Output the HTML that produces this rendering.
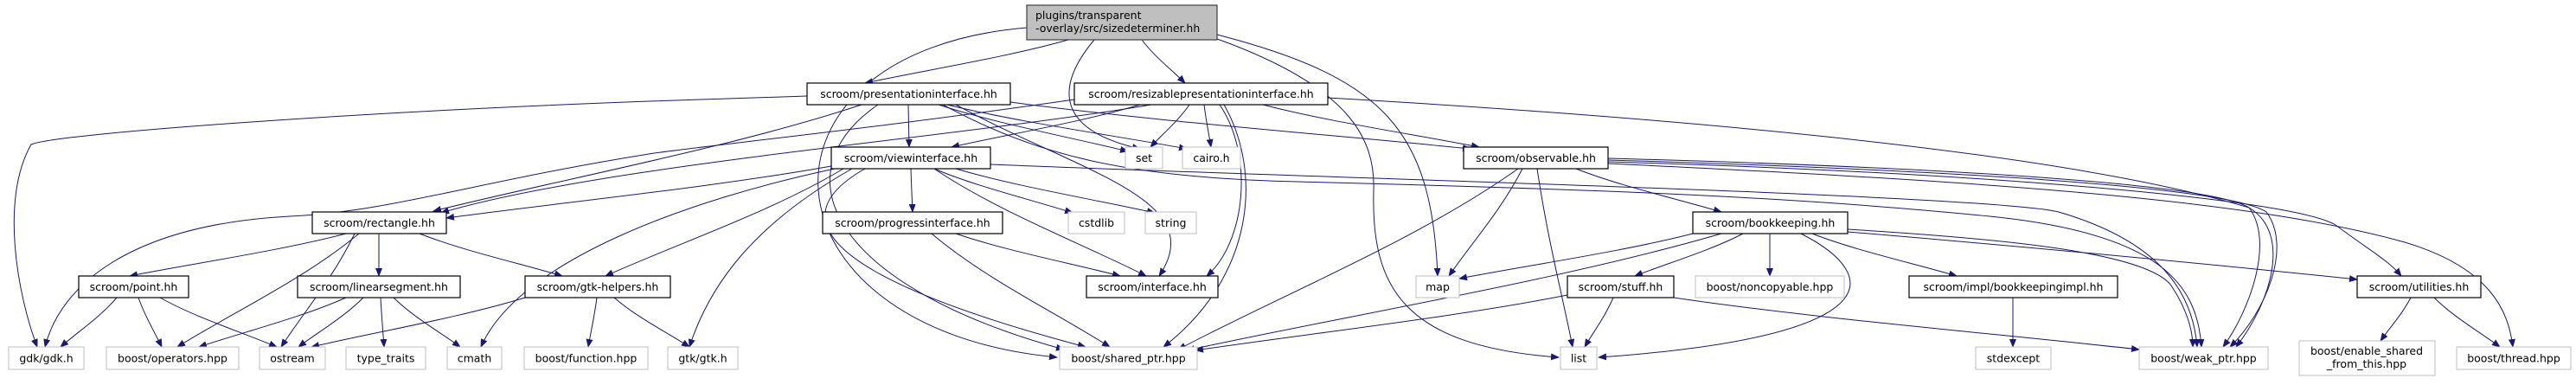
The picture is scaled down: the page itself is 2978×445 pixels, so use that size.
<!DOCTYPE html>
<html><head><meta charset="utf-8"><style>
html,body{margin:0;padding:0;background:#fff;}
svg text{font-family:"DejaVu Sans","Liberation Sans",sans-serif;font-size:12.5px;fill:#000;}
</style></head><body>
<svg id="g" width="2978" height="440" viewBox="0 0 2978 440" xmlns="http://www.w3.org/2000/svg">
<defs><marker id="a" markerWidth="10" markerHeight="8" refX="9" refY="4" orient="auto" markerUnits="userSpaceOnUse"><polygon points="0,0 10,4 0,8" fill="#191970"/></marker></defs>
<g id="edges" fill="none" stroke="#191970" stroke-width="1"></g>
<g id="nodes">
<rect x="1187" y="6" width="220" height="40" fill="#bfbfbf" stroke="#404040" stroke-width="1.2"/>
<text x="1197" y="22">plugins/transparent</text>
<text x="1197" y="37">-overlay/src/sizedeterminer.hh</text>
</g>
</svg>
<script>
var NS="http://www.w3.org/2000/svg";
var nodes=[
["scroom/presentationinterface.hh",933,96,235,25,1],
["scroom/resizablepresentationinterface.hh",1242,96,293,25,1],
["scroom/viewinterface.hh",961,170,184,25,1],
["set",1301,170,43,25,0],
["cairo.h",1367,170,67,25,0],
["scroom/observable.hh",1692,170,167,25,1],
["scroom/rectangle.hh",361,245,155,25,1],
["scroom/progressinterface.hh",951,245,208,25,1],
["cstdlib",1235,245,65,25,0],
["string",1324,245,59,25,0],
["scroom/bookkeeping.hh",1957,245,179,25,1],
["scroom/point.hh",91,319,127,25,1],
["scroom/linearsegment.hh",344,319,188,25,1],
["scroom/gtk-helpers.hh",607,319,168,25,1],
["scroom/interface.hh",1256,319,152,25,1],
["map",1637,319,50,25,0],
["scroom/stuff.hh",1812,319,123,25,1],
["boost/noncopyable.hpp",1960,319,172,25,0],
["scroom/impl/bookkeepingimpl.hh",2207,319,241,25,1],
["scroom/utilities.hh",2725,319,143,25,1],
["gdk/gdk.h",10,401,87,26,0],
["boost/operators.hpp",123,401,153,26,0],
["ostream",300,401,76,26,0],
["type_traits",400,401,92,26,0],
["cmath",517,401,63,26,0],
["boost/function.hpp",606,401,143,26,0],
["gtk/gtk.h",772,401,81,26,0],
["boost/shared_ptr.hpp",1225,401,159,26,0],
["list",1804,401,42,26,0],
["stdexcept",2284,401,87,26,0],
["boost/weak_ptr.hpp",2473,401,149,26,0],
["boost/thread.hpp",2840,401,132,26,0]
];
var ng=document.getElementById("nodes");
nodes.forEach(function(n){
 var r=document.createElementNS(NS,"rect");
 r.setAttribute("x",n[1]);r.setAttribute("y",n[2]);r.setAttribute("width",n[3]);r.setAttribute("height",n[4]);
 r.setAttribute("fill","#fff");r.setAttribute("stroke",n[5]?"#000":"#bfbfbf");r.setAttribute("stroke-width",n[5]?"1.2":"1");
 ng.appendChild(r);
 var t=document.createElementNS(NS,"text");
 t.setAttribute("x",n[1]+n[3]/2);t.setAttribute("y",n[2]+n[4]/2+4.5);t.setAttribute("text-anchor","middle");
 t.textContent=n[0];ng.appendChild(t);
});
(function(){
 var r=document.createElementNS(NS,"rect");
 r.setAttribute("x",2658);r.setAttribute("y",394);r.setAttribute("width",157);r.setAttribute("height",40);
 r.setAttribute("fill","#fff");r.setAttribute("stroke","#bfbfbf");ng.appendChild(r);
 [["boost/enable_shared",410],["_from_this.hpp",425]].forEach(function(l){
  var t=document.createElementNS(NS,"text");t.setAttribute("x",2736);t.setAttribute("y",l[1]);
  t.setAttribute("text-anchor","middle");t.textContent=l[0];ng.appendChild(t);});
})();
var E=[
"M1187,32 C850,60 870,380 1222,413",
[1235,46,1000,96],
"M1265,46 C1220,100 1220,150 1318,172",
[1320,46,1370,96],
"M1407,40 C1600,90 1655,150 1662,319",
"M1407,45 C1560,100 1590,160 1588,220 C1585,330 1620,400 1802,413",
[996,121,501,244],
"M933,111 L750,117 C400,130 60,155 36,167 C0,230 20,340 43,401",
"M1015,121 C900,200 960,330 1230,404",
[1050,121,1051,170],[1085,121,1304,175],[1095,121,1372,172],
"M1105,121 C1250,200 1400,230 1340,319",
[1168,118,1700,172],
"M1090,121 C1200,180 1300,205 1500,210 C1900,220 2100,230 2300,250 C2500,270 2540,330 2545,401",
[1318,121,1100,170],
"M1242,115 C1000,150 800,170 750,178 C550,210 450,245 335,250 C150,260 70,330 52,401",
[1375,121,1330,170],[1392,121,1400,170],
"M1410,121 C1450,180 1440,280 1395,319",
"M1415,121 C1460,200 1450,320 1345,401",
[1460,121,1710,170],
"M1535,113 C2000,140 2400,180 2600,240 C2650,270 2625,350 2585,401",
"M1331,121 C1100,160 700,190 510,246",
[961,192,516,252],[975,195,700,319],
"M965,195 C800,230 600,300 556,401",
"M985,195 C870,260 820,330 797,401",
"M1000,195 C850,280 1100,360 1255,401",
[1053,195,1055,245],[1080,195,1240,246],[1105,195,1335,246],[1080,195,1325,319],
"M1145,190 C1500,205 2300,225 2380,245 C2500,280 2535,340 2540,401",
[400,270,150,319],[415,270,205,401],[410,270,325,401],[438,270,438,319],[485,270,650,319],
[135,344,70,401],[160,344,187,401],[185,344,320,401],[400,344,230,401],[420,344,345,401],
[440,344,444,401],[455,344,532,401],[607,344,360,401],[690,344,680,401],[710,344,797,401],
[1077,270,1283,401],[1105,270,1295,319],
[1760,195,1675,319],[1755,195,1362,404],[1777,195,1818,401],[1822,195,1990,245],
"M1859,183 C2300,195 2560,215 2600,240 C2630,280 2600,360 2570,401",
"M1859,185 C2300,198 2580,218 2620,245 C2650,285 2620,360 2578,401",
"M1859,187 C2300,200 2650,230 2700,260 C2740,290 2760,300 2776,319",
"M1859,189 C2300,210 2600,230 2780,280 C2880,310 2900,360 2905,401",
[1957,270,1687,322],[1990,270,1372,405],[2015,270,1890,319],[2046,270,2046,319],
"M2082,270 C2180,320 2180,390 1848,413",
[2095,270,2262,319],
"M2136,265 C2300,275 2480,290 2510,330 C2530,360 2535,385 2535,401",
"M2136,268 C2400,290 2600,310 2725,323",
[1812,341,1382,405],[1865,344,1832,401],[1935,344,2473,404],
[2327,344,2327,401],[2787,344,2752,394],[2814,344,2890,401]
];
var eg=document.getElementById("edges");
E.forEach(function(e){
 var d;
 if(typeof e==="string") d=e;
 else{var dx=e[2]-e[0],dy=e[3]-e[1];
  d="M"+e[0]+","+e[1]+" C"+(e[0]+dx*0.3)+","+(e[1]+dy*0.4)+" "+(e[0]+dx*0.7)+","+(e[1]+dy*0.7)+" "+e[2]+","+e[3];}
 var p=document.createElementNS(NS,"path");p.setAttribute("d",d);p.setAttribute("marker-end","url(#a)");
 eg.appendChild(p);
});
</script>
</body></html>
